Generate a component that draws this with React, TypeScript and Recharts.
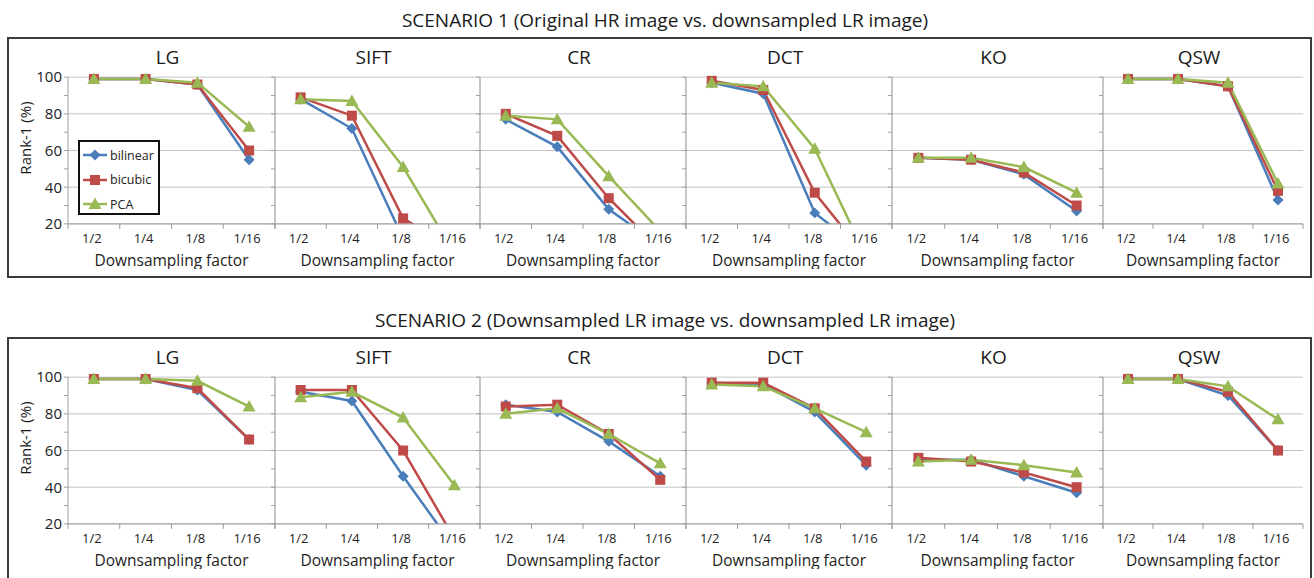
import React from "react";
import { LineChart, Line, XAxis, YAxis, CartesianGrid, ReferenceLine, Legend } from "recharts";

// Downsampling factors (x categories) and the six matchers (panels)
const CATEGORIES = ["1/2", "1/4", "1/8", "1/16"];
const METHODS = ["LG", "SIFT", "CR", "DCT", "KO", "QSW"];
const SERIES_ORDER = ["bilinear", "bicubic", "pca"];
const Y_TICKS = [20, 30, 40, 50, 60, 70, 80, 90, 100];
const Y_GRID = [20, 40, 60, 80, 100];

// Scenario 1 – rows follow METHODS, values are Rank-1 (%) per factor.
const s1Bilinear = [
  [99, 99, 96, 55],
  [88, 72, 12, 3],
  [77, 62, 28, 8],
  [97, 91, 26, 4],
  [56, 55, 47, 27],
  [99, 99, 95, 33],
];
const s1Bicubic = [
  [99, 99, 96, 60],
  [89, 79, 23, 6],
  [80, 68, 34, 6],
  [98, 93, 37, 2],
  [56, 55, 48, 30],
  [99, 99, 95, 38],
];
const s1Pca = [
  [99, 99, 97, 73],
  [88, 87, 51, 4],
  [79, 77, 46, 16],
  [97, 95, 61, 2],
  [56, 56, 51, 37],
  [99, 99, 97, 42],
];

// Scenario 2
const s2Bilinear = [
  [99, 99, 93, 66],
  [92, 87, 46, 7],
  [85, 81, 65, 46],
  [97, 96, 81, 52],
  [55, 55, 46, 37],
  [99, 99, 90, 60],
];
const s2Bicubic = [
  [99, 99, 94, 66],
  [93, 93, 60, 12],
  [84, 85, 69, 44],
  [97, 97, 83, 54],
  [56, 54, 48, 40],
  [99, 99, 92, 60],
];
const s2Pca = [
  [99, 99, 98, 84],
  [89, 92, 78, 41],
  [80, 83, 69, 53],
  [96, 95, 83, 70],
  [54, 55, 52, 48],
  [99, 99, 95, 77],
];

const SCENARIOS = [
  { title: "SCENARIO 1 (Original HR image vs. downsampled LR image)", bil: s1Bilinear, bic: s1Bicubic, pca: s1Pca },
  { title: "SCENARIO 2 (Downsampled LR image vs. downsampled LR image)", bil: s2Bilinear, bic: s2Bicubic, pca: s2Pca },
];

const BLUE = "#4a7ebb";
const RED = "#be4b48";
const GREEN = "#98b954";
const FONT = "'Open Sans', sans-serif";

// layout
const X_EDGES = [68, 275, 480, 686, 892, 1103, 1303];
const K = 1.834; // px per percent
const Y100 = 76.7; // y of the 100 gridline in scenario 1
const MT = 6;
const XH = 46;

function Diamond({ cx, cy, fill }: any) {
  const s = 5.5;
  return <path d={`M${cx},${cy - s}L${cx + s},${cy}L${cx},${cy + s}L${cx - s},${cy}Z`} fill={fill} />;
}
function Square({ cx, cy, fill }: any) {
  return <rect x={cx - 5} y={cy - 5} width={10} height={10} fill={fill} />;
}
function Triangle({ cx, cy, fill }: any) {
  return <path d={`M${cx},${cy - 6.5}L${cx + 6.5},${cy + 5}L${cx - 6.5},${cy + 5}Z`} fill={fill} />;
}

const MARKERS: Record<string, any> = { bilinear: Diamond, bicubic: Square, pca: Triangle };

const dotFor = (key: string, color: string) => (p: any) => {
  if (p.cx == null || p.cy == null || Number.isNaN(p.cy)) return <g key={`${key}-${p.index}`} />;
  const M = MARKERS[key];
  return <M key={`${key}-${p.index}`} cx={p.cx} cy={p.cy} fill={color} />;
};

function XTick(props: any) {
  const { x, y, payload } = props;
  const v = payload.value;
  if (Number.isInteger(v)) {
    return <line x1={x} x2={x} y1={y} y2={y + 5} stroke="#9a9a9a" />;
  }
  return (
    <text x={x - 2} y={y + 19} textAnchor="middle" fontSize={13} fill="#222" fontFamily={FONT}>
      {CATEGORIES[Math.floor(v)]}
    </text>
  );
}

function LegendBox(props: any) {
  const payload = [...(props.payload || [])].sort(
    (a: any, b: any) => SERIES_ORDER.indexOf(a.dataKey) - SERIES_ORDER.indexOf(b.dataKey)
  );
  return (
    <div
      style={{
        width: 82,
        height: 75,
        boxSizing: "border-box",
        border: "2px solid #111",
        background: "#fff",
        paddingTop: 1,
        fontFamily: FONT,
      }}
    >
      {payload.map((entry: any) => {
        const M = MARKERS[entry.dataKey];
        return (
          <div key={entry.dataKey} style={{ display: "flex", alignItems: "center", height: 24.5 }}>
            <svg width={27} height={16} style={{ marginLeft: 3 }}>
              <line x1={0} x2={24} y1={8} y2={8} stroke={entry.color} strokeWidth={2.5} />
              <M cx={12} cy={8} fill={entry.color} />
            </svg>
            <span style={{ fontSize: 12.5, color: "#222" }}>{entry.value}</span>
          </div>
        );
      })}
    </div>
  );
}

function Panel({ s, i }: { s: number; i: number }) {
  const sc = SCENARIOS[s];
  const left = X_EDGES[i];
  const right = X_EDGES[i + 1];
  const yw = i === 0 ? 60 : 6;
  const plotTop = Y100 + s * 300 - 5 * K;
  const plotH = 85 * K;
  const width = yw + (right - left) + 2;
  const height = MT + plotH + XH;
  const chartTop = plotTop - MT;
  const data = CATEGORIES.map((c, j) => ({
    x: j + 0.5,
    label: c,
    bilinear: sc.bil[i][j],
    bicubic: sc.bic[i][j],
    pca: sc.pca[i][j],
  }));
  return (
    <div style={{ position: "absolute", left: left - yw, top: chartTop }}>
      <LineChart width={width} height={height} data={data} margin={{ top: MT, right: 2, bottom: 0, left: 0 }}>
        <CartesianGrid vertical={false} horizontalValues={Y_GRID} stroke="#c4c4c4" />
        <XAxis
          type="number"
          dataKey="x"
          domain={[0, 4]}
          ticks={[0, 0.5, 1, 1.5, 2, 2.5, 3, 3.5, 4]}
          interval={0}
          tickSize={0}
          tickMargin={0}
          tick={XTick}
          height={XH}
          stroke="#a0a0a0"
          label={{ value: "Downsampling factor", position: "insideBottom", offset: 4, fontSize: 15.5, fill: "#222", fontFamily: FONT }}
        />
        <YAxis
          type="number"
          domain={[20, 105]}
          allowDataOverflow
          ticks={Y_TICKS}
          interval={0}
          width={yw}
          tickSize={4}
          tickMargin={2}
          axisLine={false}
          stroke="#a0a0a0"
          tick={{ fontSize: 15, fill: "#222", fontFamily: FONT }}
          tickFormatter={(v: number) => (i === 0 && v % 20 === 0 ? String(v) : "")}
        />
        <ReferenceLine segment={[{ x: 0, y: 20 }, { x: 0, y: 100 }]} stroke={i === 0 ? "#a0a0a0" : "#8c8c8c"} />
        <Line dataKey="bilinear" name="bilinear" stroke={BLUE} strokeWidth={2.5} dot={dotFor("bilinear", BLUE)} activeDot={false} isAnimationActive={false} />
        <Line dataKey="bicubic" name="bicubic" stroke={RED} strokeWidth={2.5} dot={dotFor("bicubic", RED)} activeDot={false} isAnimationActive={false} />
        <Line dataKey="pca" name="PCA" stroke={GREEN} strokeWidth={2.5} dot={dotFor("pca", GREEN)} activeDot={false} isAnimationActive={false} />
        {s === 0 && i === 0 && (
          <Legend
            layout="vertical"
            align="center"
            verticalAlign="middle"
            content={LegendBox}
            wrapperStyle={{ left: 78 - (left - yw), top: 140 - chartTop, width: 82 }}
          />
        )}
      </LineChart>
    </div>
  );
}

export default function App() {
  return (
    <div
      style={{
        position: "absolute",
        left: 0,
        top: 0,
        width: 1314,
        height: 578,
        overflow: "hidden",
        background: "#fff",
        fontFamily: FONT,
        color: "#1a1a1a",
      }}
    >
      {SCENARIOS.map((sc, s) => (
        <React.Fragment key={s}>
          <div style={{ position: "absolute", left: 8, top: 7 + s * 300, width: 1314, textAlign: "center", fontSize: 19, lineHeight: "26px" }}>
            {sc.title}
          </div>
          <div
            style={{
              position: "absolute",
              left: 7,
              top: 37 + s * 300,
              width: 1305,
              height: 241 + s * 10,
              boxSizing: "border-box",
              border: "2px solid #3c3c3c",
            }}
          />
          <div
            style={{
              position: "absolute",
              left: 25 - 50,
              top: 138 + s * 300 - 10,
              width: 100,
              height: 20,
              lineHeight: "20px",
              textAlign: "center",
              fontSize: 15,
              transform: "rotate(-90deg)",
            }}
          >
            Rank-1 (%)
          </div>
          {METHODS.map((m, i) => (
            <div
              key={m}
              style={{
                position: "absolute",
                left: X_EDGES[i] - 4,
                width: X_EDGES[i + 1] - X_EDGES[i],
                top: 44 + s * 300,
                lineHeight: "26px",
                textAlign: "center",
                fontSize: 19,
              }}
            >
              {m}
            </div>
          ))}
          {METHODS.map((m, i) => (
            <Panel key={`p-${m}`} s={s} i={i} />
          ))}
        </React.Fragment>
      ))}
    </div>
  );
}
